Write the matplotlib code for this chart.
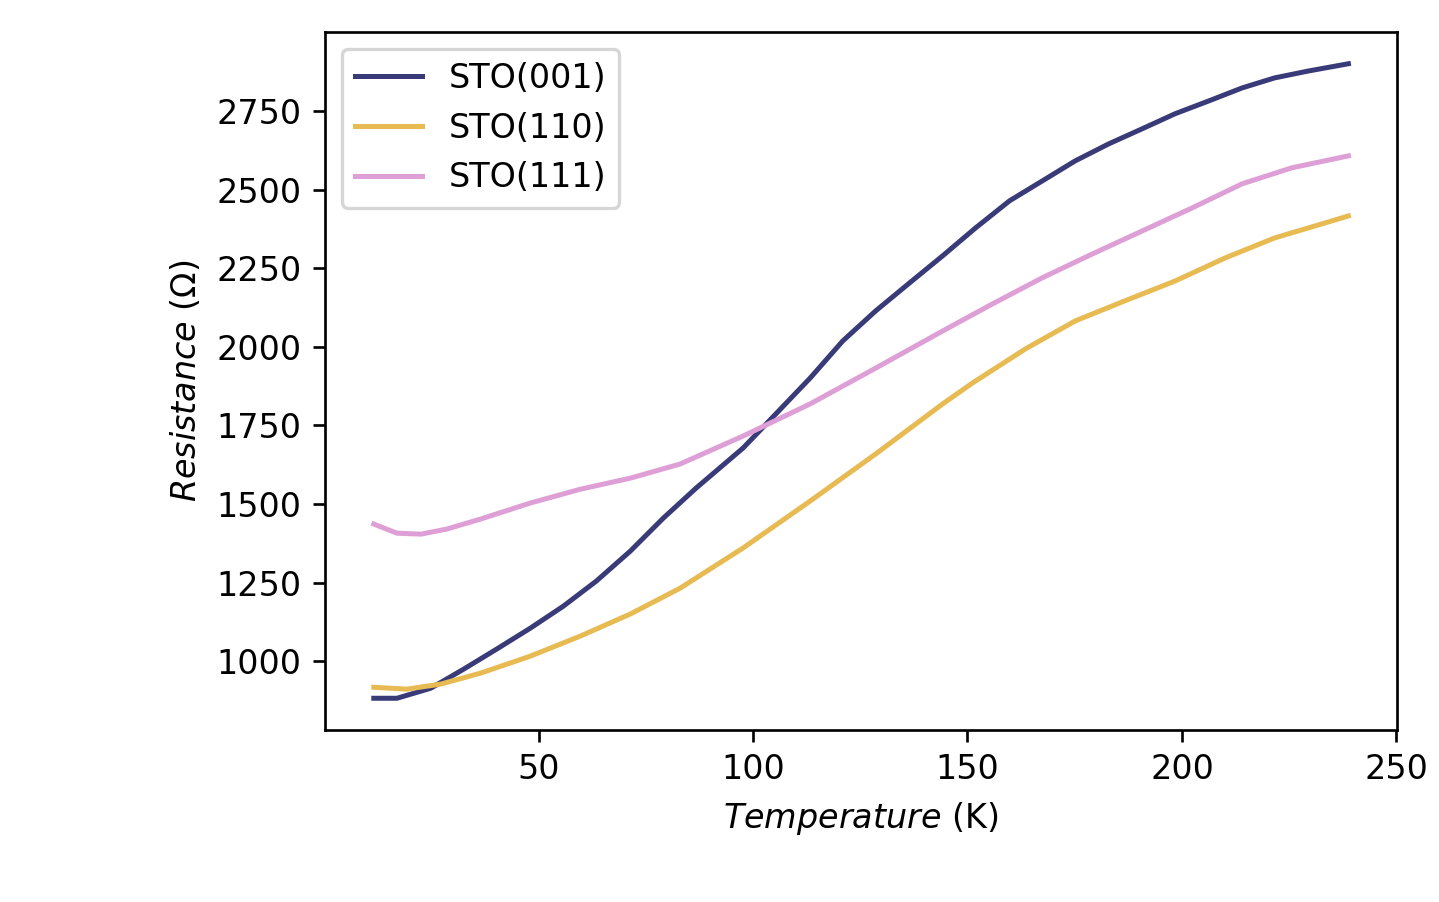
# Resistance vs temperature for STO substrates
import numpy as np
from matplotlib import pyplot as plt

# Data
temp_001 = [11.6, 17, 24.9, 32.6, 40.2, 48.1, 55.8, 63.5, 71.4, 79.1, 86.7, 97.7, 105.3, 113.3, 120.9, 128.6,
            136.5, 144.2, 151.9, 159.8, 167.4, 175.1, 182.9, 190.7, 198.4, 206.3, 214, 221.6, 229.5, 238.8]
res_001 = [882, 882, 914, 975, 1038, 1105, 1175, 1255, 1350, 1455, 1550, 1678, 1786, 1900, 2018, 2114,
           2203, 2289, 2378, 2464, 2527, 2591, 2645, 2693, 2741, 2782, 2823, 2855, 2877, 2900]

temp_110 = [11.6, 19.3, 27.2, 36.5, 48.1, 59.8, 71.4, 83, 97.7, 113.3, 128.6, 144.2, 151.2,
            163.5, 175.1, 186.7, 198.4, 210, 221.6, 229.5, 238.8]
res_110 = [917, 911, 927, 962, 1016, 1080, 1150, 1232, 1360, 1509, 1659, 1818, 1885,
           1993, 2082, 2146, 2209, 2282, 2346, 2378, 2416]

temp_111 = [11.6, 17, 22.6, 28.6, 36.5, 48.1, 59.8, 71.4, 83, 97.7, 113.3, 128.6,
            144.2, 155.8, 167.4, 179.1, 190.7, 202.3, 214, 225.6, 238.8]
res_111 = [1436, 1407, 1404, 1420, 1452, 1503, 1547, 1582, 1627, 1716, 1818, 1932,
           2050, 2136, 2219, 2295, 2368, 2441, 2518, 2569, 2607]

labels = ['STO(001)', 'STO(110)', 'STO(111)']
colors = ['#393b79', '#e7ba52', '#de9ed6']

fig = plt.figure(figsize=(1439 / 240, 902 / 240), dpi=240)
ax = fig.add_axes([0.2259, 0.1907, 0.745, 0.7738])

ax.plot(temp_001, res_001, color=colors[0], label=labels[0])
ax.plot(temp_110, res_110, color=colors[1], label=labels[1])
ax.plot(temp_111, res_111, color=colors[2], label=labels[2])

ax.set_xticks([50, 100, 150, 200, 250])
ax.set_yticks([1000, 1250, 1500, 1750, 2000, 2250, 2500, 2750])
ax.set_xlabel(r'$Temperature$ (K)')
ax.set_ylabel(r'$Resistance$ ($\Omega$)')
ax.legend(loc='upper left')

fig.savefig('out.png', dpi=240)
